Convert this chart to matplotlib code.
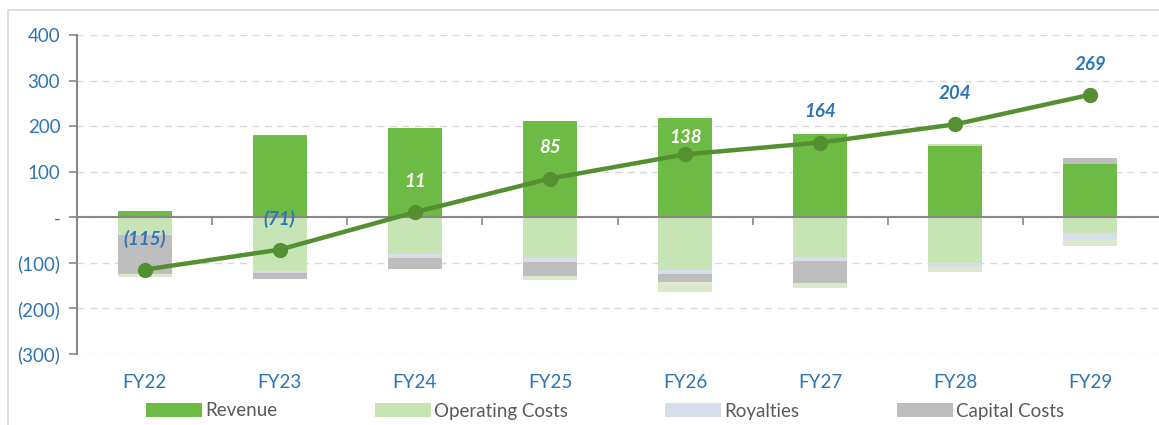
import matplotlib.pyplot as plt
from matplotlib.patches import Rectangle
from matplotlib.transforms import blended_transform_factory
import numpy as np

plt.rcParams['font.family'] = ['Lato', 'DejaVu Sans']

# Daten
years = ['FY22', 'FY23', 'FY24', 'FY25', 'FY26', 'FY27', 'FY28', 'FY29']
revenue = [13, 181, 196, 212, 218, 182, 157, 118]
revenue_top = [0, 0, 0, 0, 0, 0, 4, 0]          # schmaler hellgrüner Streifen oben
capital_top = [0, 0, 0, 0, 0, 0, 0, 11]          # grauer Streifen oben (FY29)
operating = [-37, -117, -81, -90, -115, -87, -100, -35]
royalties = [-1, -6, -8, -9, -10, -10, -9, -14]
capital = [-86, -13, -25, -29, -16, -48, -1, 0]
other = [-6, 0, 0, -10, -24, -11, -11, -15]
cumulative = [-115, -71, 11, 85, 138, 164, 204, 269]
label_inside = [False, False, True, True, True, False, False, False]
label_offset = [22, 22, 22, 22, 12, 22, 22, 22]

c_rev = '#6dbb45'
c_op = '#c6e4b4'
c_roy = '#d8dee9'
c_cap = '#bebebe'
c_oth = '#dde9cd'
c_line = '#548f32'
c_blue = '#2e75b6'

fig = plt.figure(figsize=(11.59, 4.25), dpi=100)
ax = fig.add_axes([77 / 1159, 1 - 354 / 425, (1158 - 77) / 1159, (354 - 35) / 425])

x = np.arange(len(years))
w = 0.4

# positive Balken
ax.bar(x, revenue, w, color=c_rev, zorder=2, label='Revenue')
rt = np.array(revenue)
ax.bar(x, revenue_top, w, bottom=rt, color=c_op, zorder=2)
rt = rt + np.array(revenue_top)
ax.bar(x, capital_top, w, bottom=rt, color=c_cap, zorder=2)

# negative Balken
b = np.zeros(len(years))
ax.bar(x, operating, w, bottom=b, color=c_op, zorder=2, label='Operating Costs')
b = b + np.array(operating)
ax.bar(x, royalties, w, bottom=b, color=c_roy, zorder=2, label='Royalties')
b = b + np.array(royalties)
ax.bar(x, capital, w, bottom=b, color=c_cap, zorder=2, label='Capital Costs')
b = b + np.array(capital)
ax.bar(x, other, w, bottom=b, color=c_oth, zorder=2)

# kumulierte Linie
ax.plot(x, cumulative, color=c_line, lw=3.2, marker='o', ms=10, zorder=4)
for xi, v, inside, off in zip(x, cumulative, label_inside, label_offset):
    txt = f'({abs(v)})' if v < 0 else str(v)
    ax.annotate(txt, (xi, v), xytext=(0, off), textcoords='offset points',
                ha='center', va='center', fontsize=13.5, fontweight='bold',
                fontstyle='italic', color='white' if inside else c_blue, zorder=5)

# Achsen
ax.set_xlim(-0.5, len(years) - 0.5)
ax.set_ylim(-300, 400)
yt = np.arange(-300, 401, 100)
ax.set_yticks(yt)
ax.set_yticklabels(['-' if v == 0 else (f'({abs(v)})' if v < 0 else str(v)) for v in yt],
                   color=c_blue, fontsize=13.5)
ax.yaxis.grid(True, ls=(0, (5, 4)), color='#d9d9d9', lw=1, zorder=0)
ax.tick_params(axis='y', length=6, color='#888888', width=1.2, pad=6)

ax.spines['top'].set_visible(False)
ax.spines['right'].set_visible(False)
ax.spines['left'].set_color('#888888')
ax.spines['left'].set_linewidth(1.5)
ax.spines['bottom'].set_position(('data', 0))
ax.spines['bottom'].set_color('#888888')
ax.spines['bottom'].set_linewidth(1.5)
ax.spines['bottom'].set_zorder(3)
ax.set_xticks(x[:-1] + 0.5)
ax.set_xticklabels([])
ax.tick_params(axis='x', length=6, color='#888888', width=1.2)

trans = blended_transform_factory(ax.transData, ax.transAxes)
for xi, yr in zip(x, years):
    ax.text(xi, -0.088, yr, transform=trans, ha='center', va='center',
            color=c_blue, fontsize=13.5)

# Legende
leg = fig.legend(loc='center', bbox_to_anchor=(605 / 1159, 1 - 411 / 425), ncol=4,
                 frameon=False, fontsize=13.5, handlelength=3.0, handleheight=0.7,
                 columnspacing=5.2, handletextpad=0.15)
for t in leg.get_texts():
    t.set_color('#595959')

# Rahmen
fig.patches.append(Rectangle((8 / 1159, -0.01), 1.0, 1 - 10 / 425 + 0.01,
                             transform=fig.transFigure, fill=False,
                             edgecolor='#d9d9d9', lw=1.2))

plt.savefig('out.png', dpi=100)
